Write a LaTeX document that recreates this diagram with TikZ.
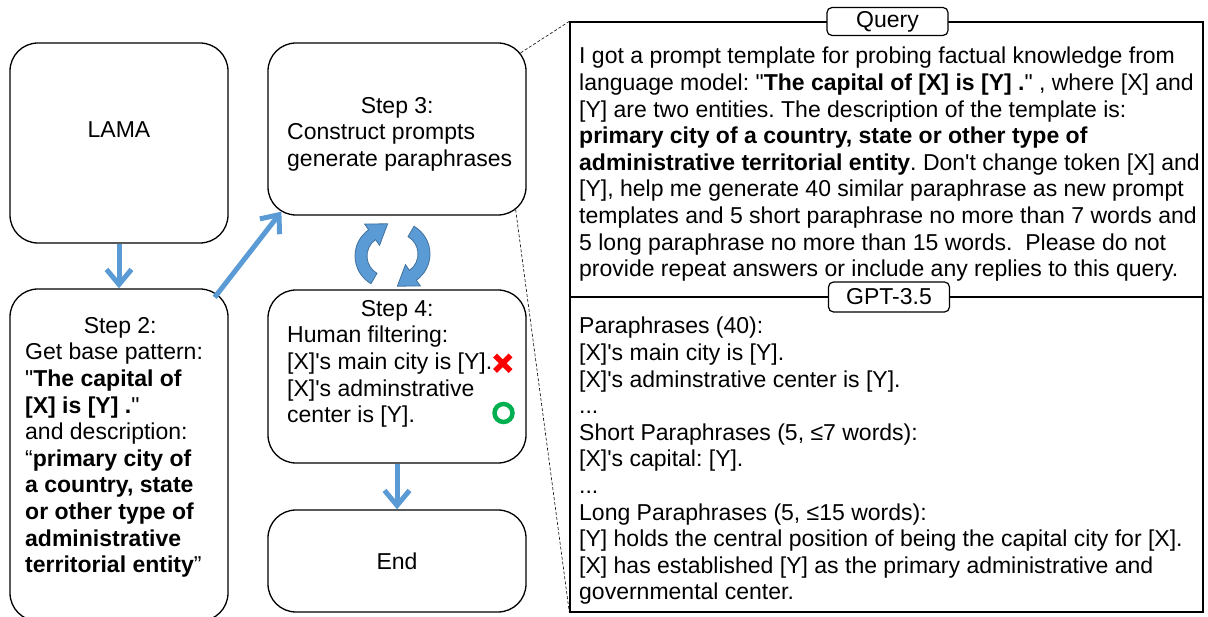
\documentclass[tikz,border=0pt]{standalone}
\usepackage{fontspec}
\newfontfamily\arialf{Liberation Sans}
\usetikzlibrary{arrows.meta,calc}
\definecolor{arrowblue}{HTML}{5B9BD5}
\definecolor{arrowedge}{HTML}{41719C}
\definecolor{okgreen}{HTML}{00B050}
\frenchspacing
\begin{document}
\begin{tikzpicture}[x=1pt,y=1pt,
  every node/.style={font=\arialf\fontsize{23}{26.6}\selectfont},
  box/.style={draw, line width=1.3pt, rounded corners=28pt, inner sep=0pt},
  txt/.style={inner sep=0pt, align=left, anchor=north west},
  flow/.style={draw=arrowblue, line width=5pt, -{Straight Barb[length=15pt,width=25pt]}},
  zoomline/.style={line width=0.6pt, dash pattern=on 3pt off 2pt},
  tag/.style={draw, line width=1.2pt, rounded corners=5pt, fill=white, minimum width=121pt, minimum height=28pt, inner sep=0pt},
  cyc/.style={fill=arrowblue, draw=arrowedge, line width=0.8pt},
  xmark/.style={draw=red, line width=5.5pt},
  omark/.style={draw=okgreen, line width=4.5pt},
]
\useasboundingbox (0,0) rectangle (1208,-617);
\clip (0,0) rectangle (1208,-617);

% left column
\node[box, minimum width=218pt, minimum height=200pt] (lama) at (119,-143) {};
\node[inner sep=0pt] (lamat) at (119,-130) {LAMA};
\node[box, minimum width=218pt, minimum height=332pt] (step2) at (119,-455) {};
\node[txt] (step2t) at (25,-317) {\makebox[190pt]{Step 2:}\\
Get base pattern:\\
"\textbf{The capital of}\\
\textbf{[X] is [Y] .}"\\
and description:\\
“\textbf{primary city of}\\
\textbf{a country, state}\\
\textbf{or other type of}\\
\textbf{administrative}\\
\textbf{territorial entity}”};

% middle column
\node[box, minimum width=258pt, minimum height=172pt] (step3) at (397,-129) {};
\node[txt] (step3t) at (287,-97) {\makebox[220pt]{Step 3:}\\
Construct prompts\\
generate paraphrases};
\node[box, minimum width=258pt, minimum height=173pt] (step4) at (397,-376.5) {};
\node[txt] (step4t) at (287,-300) {\makebox[220pt]{Step 4:}\\
Human filtering:\\
{}[X]'s main city is [Y].\\
{}[X]'s adminstrative\\
center is [Y].};
\node[box, minimum width=258pt, minimum height=102pt] (end) at (397,-561) {End};

% marks
\path[xmark] (495,-355.5) -- (510.5,-371) (510.5,-355.5) -- (495,-371);
\path[omark] (503.5,-413) circle (9pt);

% flow arrows
\draw[flow] (lama.south) -- (step2.north);
\draw[flow] ($(step2.north east)+(-14,-9)$) -- ($(step3.south west)+(14,4)$);
\draw[flow] (step4.south) -- (end.north);

% cycle arrows
\coordinate (cycA) at (387,-256);
\coordinate (cycB) at (398,-254);
\path[cyc] ($(cycA)+(240:32pt)$) arc[start angle=240, end angle=125, radius=32pt]
  -- ($(cycA)+(125:39pt)$) -- ($(cycA)+(125:26pt)+(35:19pt)$) -- ($(cycA)+(125:13pt)$)
  -- ($(cycA)+(125:20pt)$) arc[start angle=125, end angle=240, radius=20pt] -- cycle;
\path[cyc] ($(cycB)+(60:32pt)$) arc[start angle=60, end angle=-55, radius=32pt]
  -- ($(cycB)+(-55:39pt)$) -- ($(cycB)+(-55:26pt)+(215:19pt)$) -- ($(cycB)+(-55:13pt)$)
  -- ($(cycB)+(-55:20pt)$) arc[start angle=-55, end angle=60, radius=20pt] -- cycle;

% right panel
\node[draw, line width=1.3pt, minimum width=633pt, minimum height=590pt, inner sep=0pt] (panel) at (886.5,-317) {};
\draw[line width=1.3pt] (570,-297) coordinate (divl) -- (1203,-297) coordinate (divr);
\node[tag] (qtag) at (887.5,-21.5) {Query};
\node[tag, minimum height=30pt] (gtag) at (889,-297) {GPT-3.5};

\draw[zoomline] ($(step3.north east)+(-6,-10.5)$) -- (panel.north west);
\draw[zoomline] ($(step3.south east)+(-11,6)$) -- (panel.south west);

\node[txt] (qtext) at (579,-47) {I got a prompt template for probing factual knowledge from\\
language model: "\textbf{The capital of [X] is [Y] .}" , where [X] and\\
{}[Y] are two entities. The description of the template is:\\
\textbf{primary city of a country, state or other type of}\\
\textbf{administrative territorial entity}. Don't change token [X] and\\
{}[Y], help me generate 40 similar paraphrase as new prompt\\
templates and 5 short paraphrase no more than 7 words and\\
5 long paraphrase no more than 15 words.\ \ Please do not\\
provide repeat answers or include any replies to this query.};

\node[txt] (gtext) at (579,-317) {Paraphrases (40):\\
{}[X]'s main city is [Y].\\
{}[X]'s adminstrative center is [Y].\\
...\\
Short Paraphrases (5, ≤7 words):\\
{}[X]'s capital: [Y].\\
...\\
Long Paraphrases (5, ≤15 words):\\
{}[Y] holds the central position of being the capital city for [X].\\
{}[X] has established [Y] as the primary administrative and\\
governmental center.};
\end{tikzpicture}
\end{document}
